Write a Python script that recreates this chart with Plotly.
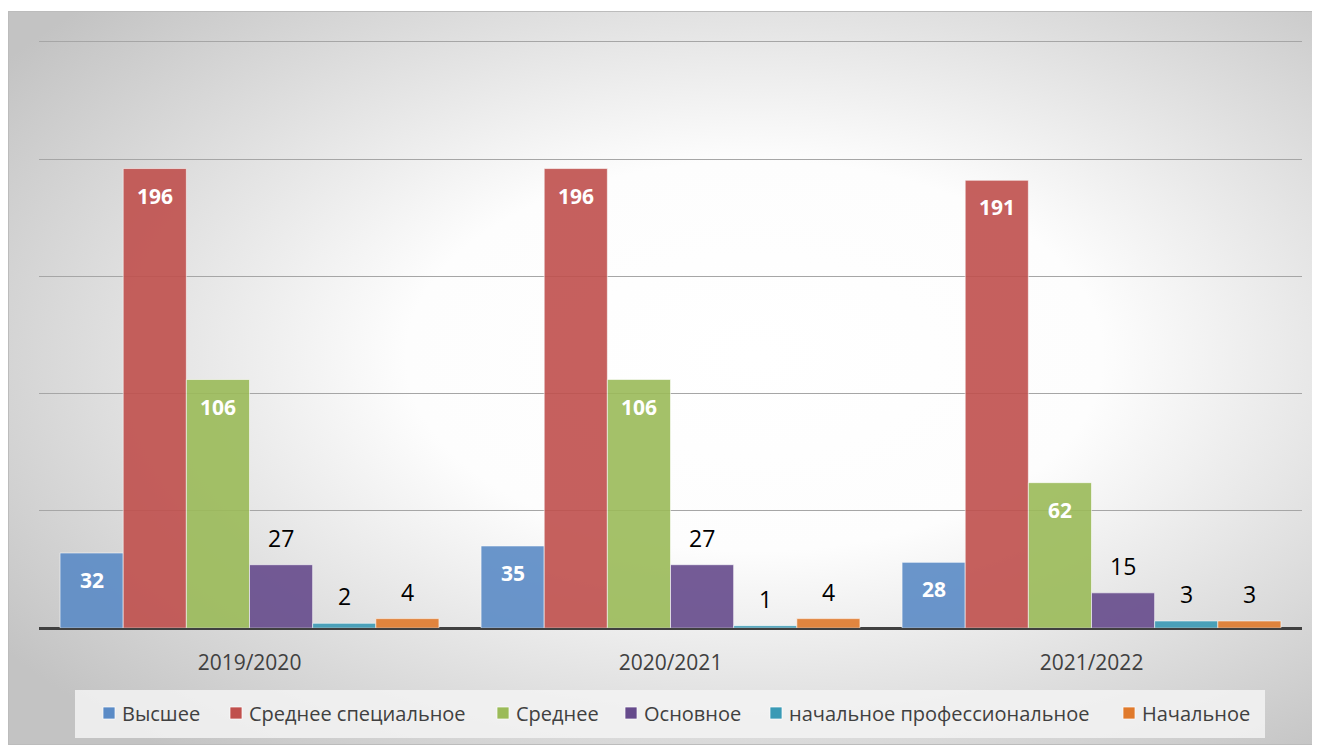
import base64
import plotly.graph_objects as go

# school years and education levels
YEARS = ['2019/2020', '2020/2021', '2021/2022']

VYSSHEE = [32, 35, 28]
SREDNEE_SPEC = [196, 196, 191]
SREDNEE = [106, 106, 62]
OSNOVNOE = [27, 27, 15]
NACH_PROF = [2, 1, 3]
NACHALNOE = [4, 4, 3]

# name, values, colour, label inside the bar or above it
SERIES = [
    ('Высшее', VYSSHEE, '#5b8bc6', True),
    ('Среднее специальное', SREDNEE_SPEC, '#c0504d', True),
    ('Среднее', SREDNEE, '#9bbb59', True),
    ('Основное', OSNOVNOE, '#664b8c', False),
    ('начальное профессиональное', NACH_PROF, '#3a9ab5', False),
    ('Начальное', NACHALNOE, '#e07a2c', False),
]

FONT = 'Open Sans, Noto Sans, DejaVu Sans, sans-serif'

# page is drawn with an 8px body margin, plot area sits at x 39..1302, y 38..628
# (y axis runs a bit past 250 so the top gridline is drawn)
PLOT_L, PLOT_T, PLOT_W, PLOT_H = 39, 38, 1263, 590
Y_MAX = 251.7
BAR_W = PLOT_W / len(YEARS) * 0.9 / len(SERIES)


def px(x):
    return (x - PLOT_L) / PLOT_W


def py(y):
    return (PLOT_T + PLOT_H - y) / PLOT_H


# radial gradient background, like the office chart style
svg = '''<svg xmlns="http://www.w3.org/2000/svg" width="1310" height="734" viewBox="0 0 1310 734">
<defs><radialGradient id="g" cx="0.57" cy="0.47" r="0.7">
<stop offset="0" stop-color="#ffffff"/><stop offset="0.38" stop-color="#fdfdfd"/>
<stop offset="1" stop-color="#c3c3c3"/></radialGradient></defs>
<rect x="0.5" y="0.5" width="1309" height="733" fill="url(#g)" stroke="#bcbcbc" stroke-width="1"/>
</svg>'''
bg_src = 'data:image/svg+xml;base64,' + base64.b64encode(svg.encode('utf-8')).decode('ascii')

fig = go.Figure()
annotations = []

for i, (name, vals, color, inside) in enumerate(SERIES):
    fig.add_trace(go.Bar(
        x=YEARS, y=vals, name=name, showlegend=False,
        marker=dict(color=color, opacity=0.9, line=dict(color='rgba(255,255,255,0.6)', width=1)),
    ))
    # data labels
    for year, v in zip(YEARS, vals):
        annotations.append(dict(
            x=year, y=v, xref='x', yref='y', text=str(v), showarrow=False,
            xshift=(i - 2.5) * BAR_W, yshift=-27 if inside else 27, yanchor='middle',
            font=dict(color='white', size=21, family=FONT, weight='bold') if inside
            else dict(color='black', size=23, family=FONT),
        ))

# legend drawn by hand: squares close to the text like the original
LEGEND_SQ_X = [103, 230, 497, 625, 770, 1123]
shapes = [dict(
    type='rect', xref='paper', yref='paper', layer='below',
    x0=px(75), x1=px(1265), y0=py(738), y1=py(690),
    fillcolor='rgba(243,243,243,0.85)', line=dict(width=0),
)]
for (name, vals, color, inside), sx in zip(SERIES, LEGEND_SQ_X):
    shapes.append(dict(
        type='rect', xref='paper', yref='paper',
        x0=px(sx), x1=px(sx + 12), y0=py(719), y1=py(707),
        fillcolor=color, line=dict(color='rgba(255,255,255,0.7)', width=1),
    ))
    annotations.append(dict(
        x=px(sx + 17), y=py(713), xref='paper', yref='paper', text=name,
        showarrow=False, xanchor='left', yanchor='middle',
        font=dict(size=20, color='#404040', family=FONT),
    ))

fig.update_layout(
    width=1312, height=737,
    margin=dict(l=PLOT_L - 8, r=1320 - PLOT_L - PLOT_W, t=PLOT_T - 8, b=737 - (PLOT_T - 8) - PLOT_H),
    paper_bgcolor='white',
    plot_bgcolor='rgba(0,0,0,0)',
    barmode='group', bargap=0.1, bargroupgap=0,
    font=dict(family=FONT, color='#404040'),
    showlegend=False,
    annotations=annotations,
    shapes=shapes,
    images=[dict(
        source=bg_src, xref='paper', yref='paper',
        x=px(8), y=py(11), sizex=1310 / PLOT_W, sizey=734 / PLOT_H,
        xanchor='left', yanchor='top', sizing='stretch', layer='below',
    )],
)

fig.update_xaxes(
    showgrid=False, showline=False, ticks='', ticklabelstandoff=20,
    tickfont=dict(size=21, color='#404040'),
)
fig.update_yaxes(
    range=[0, Y_MAX], dtick=50, showticklabels=False,
    showgrid=True, gridcolor='#a6a6a6', gridwidth=1,
    zeroline=True, zerolinecolor='#404040', zerolinewidth=3,
    showline=False, ticks='',
)

fig.write_html("out.html")
